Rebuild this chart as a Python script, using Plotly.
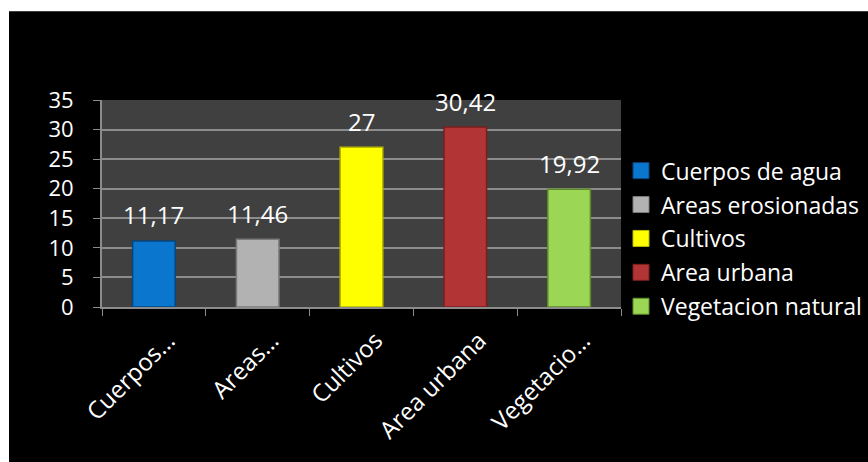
import plotly.graph_objects as go

categories = ["Cuerpos de agua", "Areas erosionadas", "Cultivos", "Area urbana", "Vegetacion natural"]
tick_labels = ["Cuerpos…", "Areas…", "Cultivos", "Area urbana", "Vegetacio…"]
values = [11.17, 11.46, 27, 30.42, 19.92]
colors = ["#0B76CE", "#B2B2B2", "#FFFF00", "#B23434", "#9BD655"]
edge_colors = ["#06467E", "#7A7A7A", "#B8B800", "#7A1E1E", "#5E8C2A"]

FONT = "Open Sans"
FS = 24
fig = go.Figure()
for cat, tl, v, c, e in zip(categories, tick_labels, values, colors, edge_colors):
    fig.add_trace(go.Bar(
        x=[tl], y=[v], name=cat, legendgroup=cat, showlegend=False,
        marker=dict(color=c, line=dict(color=e, width=1.5)),
        width=0.41,
    ))
    # legend swatch
    fig.add_trace(go.Scatter(
        x=[None], y=[None], mode="markers", name=cat, legendgroup=cat,
        marker=dict(symbol="square", size=16, color=c, line=dict(color=e, width=1)),
    ))

for tl, v in zip(tick_labels, values):
    fig.add_annotation(x=tl, y=v, text=f"{v:g}".replace(".", ","), showarrow=False,
                       yanchor="middle", yshift=26,
                       font=dict(family=FONT, size=24, color="white"))

fig.update_layout(
    width=868, height=462,
    paper_bgcolor="black", plot_bgcolor="#404040",
    margin=dict(l=102, r=247, t=100, b=155, autoexpand=False),
    barmode="overlay",
    font=dict(family=FONT, size=FS, color="white"),
    showlegend=True,
    legend=dict(x=1.0, xanchor="left", y=0.33, yanchor="middle",
                font=dict(family=FONT, size=23, color="white"),
                tracegroupgap=1, bgcolor="rgba(0,0,0,0)", itemwidth=30),
    xaxis=dict(categoryorder="array", categoryarray=tick_labels,
               tickangle=-45, tickson="boundaries", ticks="outside", ticklen=7,
               tickcolor="#8C8C8C", showline=True, linecolor="#8C8C8C", linewidth=2,
               showgrid=False, ticklabelshift=14, ticklabelstandoff=8, automargin=False,
               tickfont=dict(family=FONT, size=FS, color="white")),
    yaxis=dict(range=[0, 35], dtick=5, ticks="outside", ticklen=7, tickcolor="#8C8C8C",
               showline=True, linecolor="#8C8C8C", linewidth=2,
               gridcolor="#8C8C8C", gridwidth=2, zeroline=False,
               ticklabelstandoff=15, automargin=False,
               tickfont=dict(family=FONT, size=22, color="white")),
    shapes=[
        dict(type="rect", xref="paper", yref="paper", x0=-0.3, x1=1.7, y0=(307-12)/206.5, y1=1.6,
             fillcolor="white", line=dict(width=0), layer="above"),
        dict(type="rect", xref="paper", yref="paper", x0=-0.3, x1=(9-102)/519, y0=-0.8, y1=1.6,
             fillcolor="white", line=dict(width=0), layer="above"),
    ],
)

fig.write_html("out.html")
